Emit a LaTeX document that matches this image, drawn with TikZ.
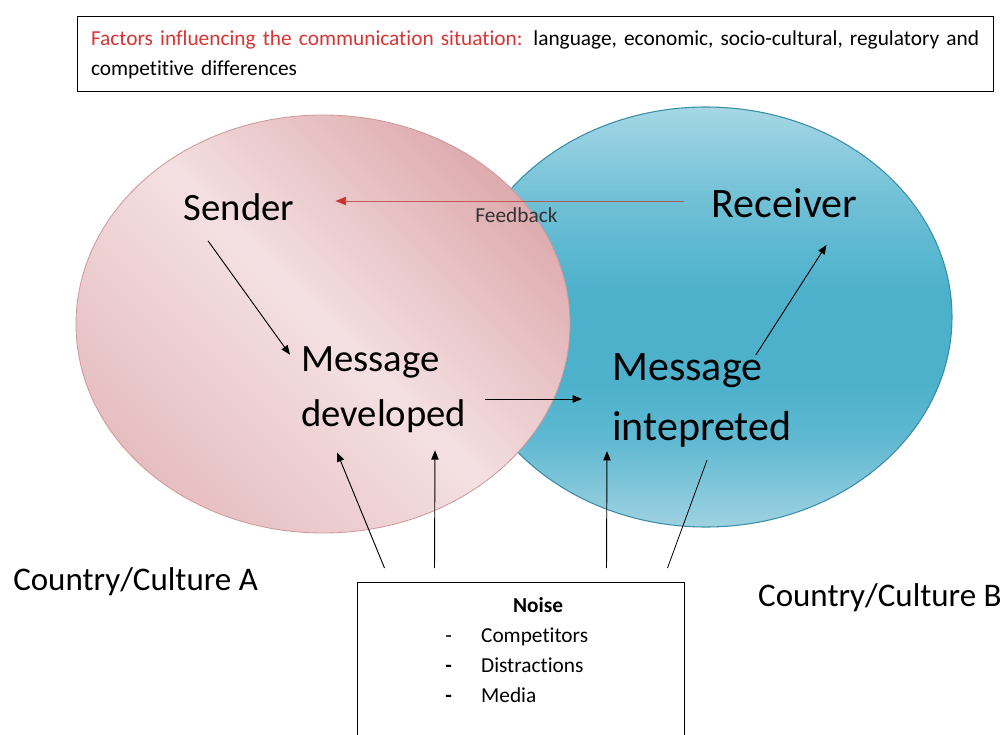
\documentclass[tikz,border=0pt]{standalone}
\usepackage{fontspec}
\setmainfont{Carlito}[Ligatures=NoCommon]
\usetikzlibrary{positioning,calc,arrows.meta}

\definecolor{pinkdark}{HTML}{DEABAE}
\definecolor{pinklight}{HTML}{F4E0E2}
\definecolor{pinkmid}{HTML}{E6BEC1}
\definecolor{pinkrim}{HTML}{CF9598}
\definecolor{bluetop}{HTML}{A6D7E5}
\definecolor{bluemid}{HTML}{4DB1CC}
\definecolor{bluebot}{HTML}{9ED2E1}
\definecolor{bluerim}{HTML}{3A8DA7}
\definecolor{factred}{HTML}{DA3434}
\definecolor{fbred}{HTML}{C9302C}

\pgfdeclareverticalshading{bluecult}{100bp}{color(0bp)=(bluebot); color(25bp)=(bluebot);
  color(35bp)=(bluemid!75!bluebot); color(42bp)=(bluemid); color(53bp)=(bluemid);
  color(64bp)=(bluemid!60!bluetop); color(75bp)=(bluetop); color(100bp)=(bluetop)}

\tikzset{
  txt/.style={inner sep=0pt, text=black},
  arr/.style={-{Triangle[length=7pt,width=5.5pt]}, line width=0.7pt, draw=black},
  fbarr/.style={-{Triangle[length=8pt,width=6.5pt,color=fbred]}, line width=0.6pt, draw=fbred!80!gray, draw opacity=0.8},
  fblabel/.style={txt, text=black!80, font=\fontsize{16}{18}\selectfont},
  plainbox/.style={draw=black, line width=0.75pt, fill=white}
}

\begin{document}
\begin{tikzpicture}[x=0.75pt,y=-0.75pt]
  \useasboundingbox (0,0) rectangle (1007,735);

  % Cultures
  \shade[shading=bluecult] (706,317) ellipse (246 and 210);
  \draw[bluerim, line width=0.8pt] (706,317) ellipse (246 and 210);
  \shade[top color=pinkdark, bottom color=pinkmid, middle color=pinklight, shading angle=-45] (323,324) ellipse (247 and 209);
  \draw[pinkrim, line width=0.6pt] (323,324) ellipse (247 and 209);

  % Define nodes
  \node[plainbox, text width=666pt, inner xsep=10.5pt, minimum height=56.25pt, align=left,
        font=\fontsize{16}{22.5}\selectfont] (factors) at (535,54.5)
    {\mbox{\textcolor{factred}{Factors influencing the communication situation:} language, economic, socio-cultural, regulatory and}\\competitive differences};

  \node[txt, font=\fontsize{29}{35}\selectfont] (sender) at (239,207) {Sender};
  \node[txt, font=\fontsize{31.5}{38}\selectfont] (receiver) at (784.5,203) {Receiver};
  \node[txt, anchor=west, align=left, font=\fontsize{29}{41.25}\selectfont] (msgdev) at (301,390) {Message\\developed};
  \node[txt, anchor=west, align=left, font=\fontsize{31.5}{45}\selectfont] (msgint) at (612,400) {Message\\intepreted};

  \node[txt, anchor=west, font=\fontsize{24.75}{30}\selectfont] (cultA) at (13,582) {Country/Culture A};
  \node[txt, anchor=east, font=\fontsize{24.75}{30}\selectfont] (cultB) at (1002,598) {Country/Culture B};

  \node[plainbox, anchor=north, minimum width=245.25pt, minimum height=150pt] (noise) at (520.5,582) {};
  \node[txt, font=\fontsize{16}{20}\selectfont\bfseries] (noisetitle) at (538,605) {Noise};
  \node[txt, anchor=north west, font=\fontsize{16}{22.5}\selectfont] (noiselist) at (445,621)
    {\begin{tabular}{@{}l@{\hspace{22pt}}l@{}}
      - & Competitors\\
      \textbf{-} & Distractions\\
      \textbf{-} & Media
    \end{tabular}};

  % Connect the nodes
  \draw[arr] ($(sender.south)+(-31,20)$) -- ($(msgdev.north west)+(-11,8)$);
  \draw[arr] ($(msgdev.east)+(19,9)$) -- ($(msgint.west)+(-30,-1)$);
  \draw[arr] ($(msgint.north)+(54,2)$) -- ($(receiver.south)+(42,27)$);
  \draw[fbarr] ($(receiver.west)+(-28,-2)$) -- node[fblabel, pos=0.48, below=5pt] (fb) {Feedback} ($(sender.east)+(41,-6)$);

  \draw[arr] ($(noise.north west)+(28,-14)$) -- ($(msgdev.south west)+(36,19)$);
  \draw[arr] ($(noise.north west)+(78,-14)$) -- ($(msgdev.south west)+(134,17)$);
  \draw[arr] ($(noise.north west)+(250,-14)$) -- ($(msgint.south west)+(-5,4)$);
  \draw[line width=0.6pt] ($(noise.north west)+(311,-14)$) -- ($(msgint.south west)+(95,13)$);

\end{tikzpicture}
\end{document}
